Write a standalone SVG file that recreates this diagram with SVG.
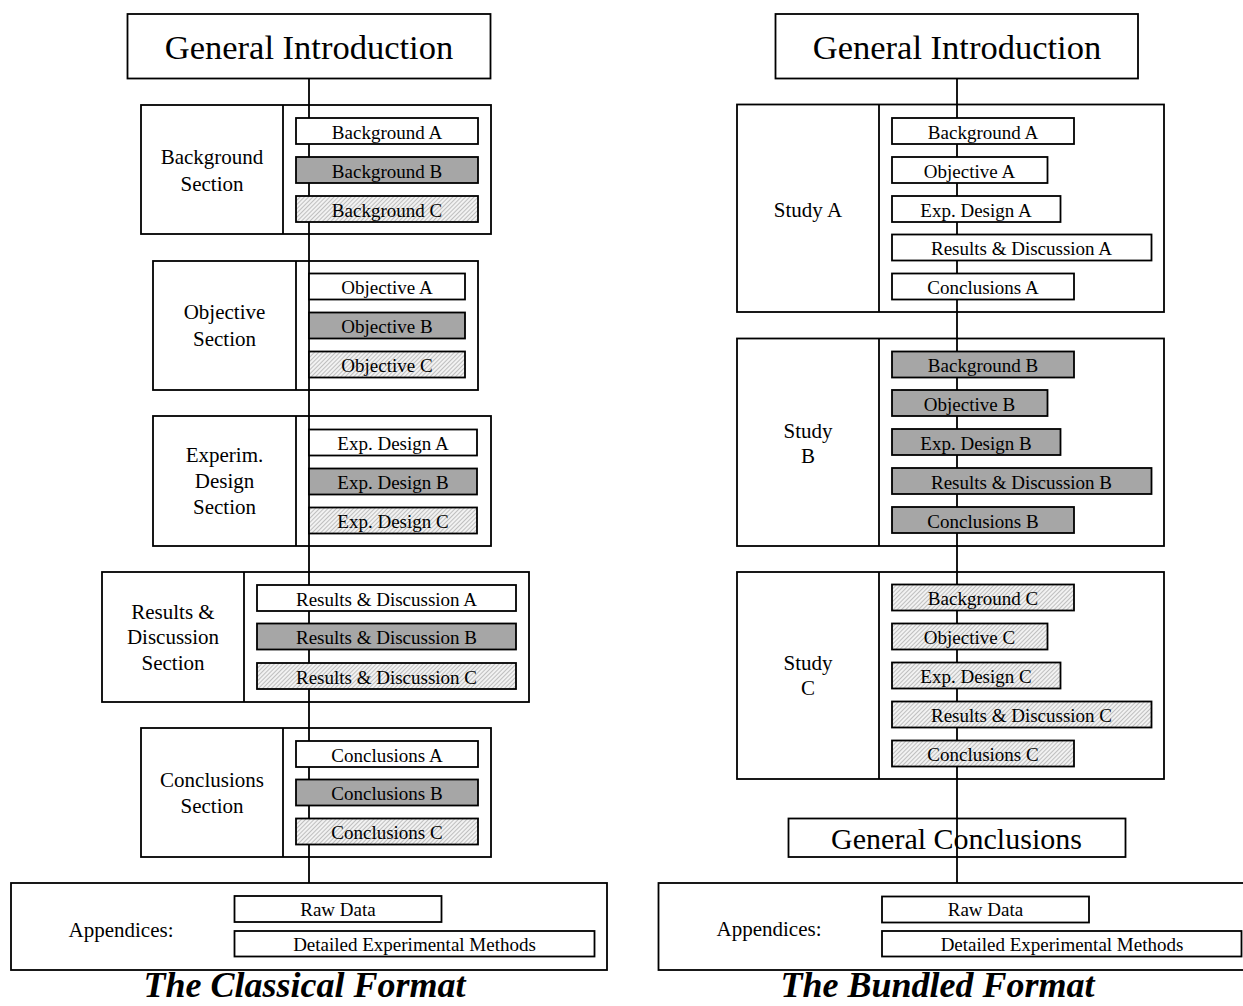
<svg xmlns="http://www.w3.org/2000/svg" width="1243" height="1006" viewBox="0 0 1243 1006">
<style>
rect{stroke:#000;stroke-width:1.8}
.w{fill:#fff}
.g{fill:#a6a6a6}
.h{fill:url(#hatch)}
.con{stroke:#000;stroke-width:1.8;fill:none}
text{font-family:"Liberation Serif","Times New Roman",serif;fill:#000;text-anchor:middle}
.s{font-size:19px}
.m{font-size:21px}
.big{font-size:34.5px}
.gc{font-size:30px}
.t{font-size:36px;font-weight:bold;font-style:italic}
</style>
<defs>
<pattern id="hatch" width="3" height="3" patternUnits="userSpaceOnUse" patternTransform="rotate(45)">
<rect x="0" y="0" width="3" height="3" style="fill:#f2f2f2;stroke:none"/>
<line x1="0" y1="0" x2="0" y2="3" style="stroke:#8c8c8c;stroke-width:1"/>
</pattern>
</defs>
<rect x="0" y="0" width="1243" height="1006" style="fill:#fff;stroke:none"/>

<!-- ===== Classical format ===== -->
<g id="cl-intro"><rect class="w" x="127.5" y="14" width="363" height="64.5"/><text class="big" x="309" y="59">General Introduction</text></g>

<g id="cl-bg-frame"><rect class="w" x="141" y="105" width="350" height="129"/><line class="con" x1="283" y1="105" x2="283" y2="234"/><text class="m" x="212" y="164">Background</text><text class="m" x="212" y="190.5">Section</text></g>
<g id="cl-obj-frame"><rect class="w" x="153" y="261" width="325" height="129"/><line class="con" x1="296" y1="261" x2="296" y2="390"/><text class="m" x="224.5" y="319">Objective</text><text class="m" x="224.5" y="345.5">Section</text></g>
<g id="cl-exp-frame"><rect class="w" x="153" y="416" width="338" height="130"/><line class="con" x1="296" y1="416" x2="296" y2="546"/><text class="m" x="224.5" y="462">Experim.</text><text class="m" x="224.5" y="488">Design</text><text class="m" x="224.5" y="514">Section</text></g>
<g id="cl-res-frame"><rect class="w" x="102" y="572" width="427" height="130"/><line class="con" x1="244" y1="572" x2="244" y2="702"/><text class="m" x="173" y="618.5">Results &amp;</text><text class="m" x="173" y="644">Discussion</text><text class="m" x="173" y="669.5">Section</text></g>
<g id="cl-con-frame"><rect class="w" x="141" y="728" width="350" height="129"/><line class="con" x1="283" y1="728" x2="283" y2="857"/><text class="m" x="212" y="786.5">Conclusions</text><text class="m" x="212" y="812.5">Section</text></g>
<g id="cl-app"><rect class="w" x="11" y="883" width="596" height="87"/><text class="m" x="121" y="937">Appendices:</text></g>

<!-- ===== Bundled format frames ===== -->
<g id="bu-intro"><rect class="w" x="775.5" y="14" width="362.5" height="64.5"/><text class="big" x="957" y="59">General Introduction</text></g>
<g id="bu-studyA"><rect class="w" x="737" y="104.5" width="427" height="207.5"/><line class="con" x1="879" y1="104.5" x2="879" y2="312"/><text class="m" x="808" y="216.5">Study A</text></g>
<g id="bu-studyB"><rect class="w" x="737" y="338.5" width="427" height="207.5"/><line class="con" x1="879" y1="338.5" x2="879" y2="546"/><text class="m" x="808" y="438">Study</text><text class="m" x="808" y="463">B</text></g>
<g id="bu-studyC"><rect class="w" x="737" y="572" width="427" height="207"/><line class="con" x1="879" y1="572" x2="879" y2="779"/><text class="m" x="808" y="670">Study</text><text class="m" x="808" y="695">C</text></g>
<g id="bu-genconc"><rect class="w" x="788.5" y="818.5" width="337" height="38.5"/><text class="gc" x="956.5" y="849">General Conclusions</text></g>
<g id="bu-app"><rect class="w" x="658.5" y="883" width="600" height="87"/><text class="m" x="769" y="936">Appendices:</text></g>

<!-- ===== Connectors ===== -->
<g id="connectors">
<line class="con" x1="309" y1="78.5" x2="309" y2="883"/>
<line class="con" x1="957" y1="78.5" x2="957" y2="883"/>
</g>

<!-- ===== Classical inner boxes ===== -->
<g id="cl-bgA"><rect class="w" x="296" y="118" width="182" height="26"/><text class="s" x="387" y="138.5">Background A</text></g>
<g id="cl-bgB"><rect class="g" x="296" y="157" width="182" height="26"/><text class="s" x="387" y="177.5">Background B</text></g>
<g id="cl-bgC"><rect class="h" x="296" y="196" width="182" height="26"/><text class="s" x="387" y="216.5">Background C</text></g>

<g id="cl-objA"><rect class="w" x="309" y="273.5" width="156" height="26"/><text class="s" x="387" y="294">Objective A</text></g>
<g id="cl-objB"><rect class="g" x="309" y="312.5" width="156" height="26"/><text class="s" x="387" y="333">Objective B</text></g>
<g id="cl-objC"><rect class="h" x="309" y="351.5" width="156" height="26"/><text class="s" x="387" y="372">Objective C</text></g>

<g id="cl-expA"><rect class="w" x="309" y="429.5" width="168" height="26"/><text class="s" x="393" y="450">Exp. Design A</text></g>
<g id="cl-expB"><rect class="g" x="309" y="468.5" width="168" height="26"/><text class="s" x="393" y="489">Exp. Design B</text></g>
<g id="cl-expC"><rect class="h" x="309" y="507.5" width="168" height="26"/><text class="s" x="393" y="528">Exp. Design C</text></g>

<g id="cl-resA"><rect class="w" x="257" y="585" width="259" height="26"/><text class="s" x="386.5" y="605.5">Results &amp; Discussion A</text></g>
<g id="cl-resB"><rect class="g" x="257" y="623.5" width="259" height="26"/><text class="s" x="386.5" y="644">Results &amp; Discussion B</text></g>
<g id="cl-resC"><rect class="h" x="257" y="663" width="259" height="26"/><text class="s" x="386.5" y="683.5">Results &amp; Discussion C</text></g>

<g id="cl-conA"><rect class="w" x="296" y="741" width="182" height="26"/><text class="s" x="387" y="761.5">Conclusions A</text></g>
<g id="cl-conB"><rect class="g" x="296" y="779.5" width="182" height="26"/><text class="s" x="387" y="800">Conclusions B</text></g>
<g id="cl-conC"><rect class="h" x="296" y="818.5" width="182" height="26"/><text class="s" x="387" y="839">Conclusions C</text></g>

<g id="cl-raw"><rect class="w" x="234.5" y="896" width="207" height="26"/><text class="s" x="338" y="915.5">Raw Data</text></g>
<g id="cl-det"><rect class="w" x="234.5" y="931" width="360" height="25.5"/><text class="s" x="414.5" y="950.5">Detailed Experimental Methods</text></g>

<!-- ===== Bundled inner boxes ===== -->
<g id="bu-bgA"><rect class="w" x="892" y="118" width="182" height="26"/><text class="s" x="983" y="138.5">Background A</text></g>
<g id="bu-objA"><rect class="w" x="892" y="157" width="155.5" height="26"/><text class="s" x="969.5" y="177.5">Objective A</text></g>
<g id="bu-expA"><rect class="w" x="892" y="196" width="168.5" height="26"/><text class="s" x="976" y="216.5">Exp. Design A</text></g>
<g id="bu-resA"><rect class="w" x="892" y="234.5" width="259.5" height="26"/><text class="s" x="1021.5" y="255">Results &amp; Discussion A</text></g>
<g id="bu-conA"><rect class="w" x="892" y="273.5" width="182" height="26"/><text class="s" x="983" y="294">Conclusions A</text></g>

<g id="bu-bgB"><rect class="g" x="892" y="351.5" width="182" height="26"/><text class="s" x="983" y="372">Background B</text></g>
<g id="bu-objB"><rect class="g" x="892" y="390" width="155.5" height="26"/><text class="s" x="969.5" y="410.5">Objective B</text></g>
<g id="bu-expB"><rect class="g" x="892" y="429" width="168.5" height="26"/><text class="s" x="976" y="449.5">Exp. Design B</text></g>
<g id="bu-resB"><rect class="g" x="892" y="468" width="259.5" height="26"/><text class="s" x="1021.5" y="488.5">Results &amp; Discussion B</text></g>
<g id="bu-conB"><rect class="g" x="892" y="507" width="182" height="26"/><text class="s" x="983" y="527.5">Conclusions B</text></g>

<g id="bu-bgC"><rect class="h" x="892" y="584.5" width="182" height="26"/><text class="s" x="983" y="605">Background C</text></g>
<g id="bu-objC"><rect class="h" x="892" y="623.5" width="155.5" height="26"/><text class="s" x="969.5" y="644">Objective C</text></g>
<g id="bu-expC"><rect class="h" x="892" y="662.5" width="168.5" height="26"/><text class="s" x="976" y="683">Exp. Design C</text></g>
<g id="bu-resC"><rect class="h" x="892" y="701.5" width="259.5" height="26"/><text class="s" x="1021.5" y="722">Results &amp; Discussion C</text></g>
<g id="bu-conC"><rect class="h" x="892" y="740.5" width="182" height="26"/><text class="s" x="983" y="761">Conclusions C</text></g>

<g id="bu-raw"><rect class="w" x="882" y="896.5" width="207" height="26"/><text class="s" x="985.5" y="916">Raw Data</text></g>
<g id="bu-det"><rect class="w" x="882" y="931" width="359.5" height="25.5"/><text class="s" x="1062" y="950.5">Detailed Experimental Methods</text></g>

<!-- ===== Titles ===== -->
<text class="t" x="304.5" y="997">The Classical Format</text>
<text class="t" x="937.5" y="997">The Bundled Format</text>
</svg>
